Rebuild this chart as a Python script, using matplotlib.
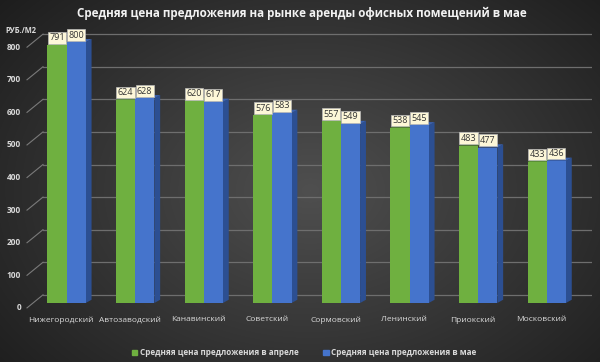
import numpy as np
import matplotlib.pyplot as plt
from matplotlib.patches import Polygon, Patch

# data
districts = ['Нижегородский', 'Автозаводский', 'Канавинский', 'Советский',
             'Сормовский', 'Ленинский', 'Приокский', 'Московский']
april = [791, 624, 620, 576, 557, 538, 483, 433]
may = [800, 628, 617, 583, 549, 545, 477, 436]
yticks = [0, 100, 200, 300, 400, 500, 600, 700, 800]

title = 'Средняя цена предложения на рынке аренды офисных помещений в мае'
unit = 'РУБ./М2'
label_apr = 'Средняя цена предложения в апреле'
label_may = 'Средняя цена предложения в мае'

plt.rcParams['font.family'] = ['Open Sans', 'DejaVu Sans']

green = '#6fb040'
blue = '#4574cc'
blue_side = '#2c4f92'
blue_top = '#3a62b0'
txt = '#d9d9d9'

fig = plt.figure(figsize=(6, 3.62), dpi=100)

# dark radial background
bg = fig.add_axes([0, 0, 1, 1])
yy, xx = np.mgrid[0:362, 0:600]
r = np.sqrt(((xx - 310) / 420.0) ** 2 + ((yy - 190) / 300.0) ** 2)
shade = np.clip(0.31 - 0.20 * r, 0.1, 0.31)
bg.imshow(np.dstack([shade] * 3), aspect='auto', extent=[0, 1, 0, 1])
bg.axis('off')

ax = fig.add_axes([43 / 600, 59 / 362, 549 / 600, 277 / 362])
ax.set_facecolor('none')
x0, x1 = -0.343, 7.66
ax.set_xlim(x0, x1)
ax.set_ylim(0, 850)
for s in ax.spines.values():
    s.set_visible(False)
ax.set_xticks([])
ax.set_yticks([])

wall = 25      # back wall offset (data units)
w = 0.28       # bar width
d = 0.085      # depth of the side face
dz = 10

# back wall grid + slanted axis lines
for v in yticks:
    ax.plot([x0, x1], [v + wall, v + wall], color='#6e6e6e', lw=0.9, zorder=1)
    ax.plot([-0.576, x0], [v - 15, v + wall], color='#7a7a7a', lw=0.8,
            clip_on=False, zorder=1)
    ax.text(-0.663, v - 15, str(v), ha='right', va='center', color=txt,
            fontsize=6, fontweight='bold', clip_on=False)
ax.text(-0.896, 837, unit, ha='left', va='center', color=txt, fontsize=5.5,
        fontweight='bold', clip_on=False)

x = np.arange(len(districts))
for i in x:
    a, m = april[i], may[i]
    # green (april)
    ax.add_patch(Polygon([(i - w, a), (i - w + d, a + dz), (i + d, a + dz), (i, a)],
                         closed=True, fc='#5e9a36', ec='none', zorder=3))
    ax.bar(i - w / 2, a, w, color=green, zorder=4)
    # blue (may) with side and top faces
    ax.add_patch(Polygon([(i + w, 0), (i + w + d, dz), (i + w + d, m + dz), (i + w, m)],
                         closed=True, fc=blue_side, ec='none', zorder=3))
    ax.add_patch(Polygon([(i, m), (i + d, m + dz), (i + w + d, m + dz), (i + w, m)],
                         closed=True, fc=blue_top, ec='none', zorder=3))
    ax.bar(i + w / 2, m, w, color=blue, zorder=4)
    for xc, v in ((i - w / 2, a), (i + w / 2, m)):
        ax.annotate(str(v), (xc, v), xytext=(0, 2), textcoords='offset points',
                    ha='center', va='bottom', fontsize=6.5, color='#333333',
                    bbox=dict(boxstyle='square,pad=0.15', fc='#fdf7d8',
                              ec='#bbbbbb', lw=0.5), zorder=6)
    ax.text(i - 0.08, -52, districts[i], ha='center', va='center', color=txt,
            fontsize=6, clip_on=False)

fig.text(0.503, 0.962, title, ha='center', va='center', color='#f2f2f2',
         fontsize=8.4, fontweight='bold')

handles = [Patch(color=green), Patch(color=blue)]
leg = fig.legend(handles, [label_apr, label_may], loc='center',
                 bbox_to_anchor=(0.507, 0.025), ncol=2, frameon=False,
                 fontsize=5.9, handlelength=0.65, handleheight=0.65,
                 handletextpad=0.3, columnspacing=3.0)
for t in leg.get_texts():
    t.set_color(txt)
    t.set_fontweight('bold')

fig.savefig('out.png', dpi=100)
